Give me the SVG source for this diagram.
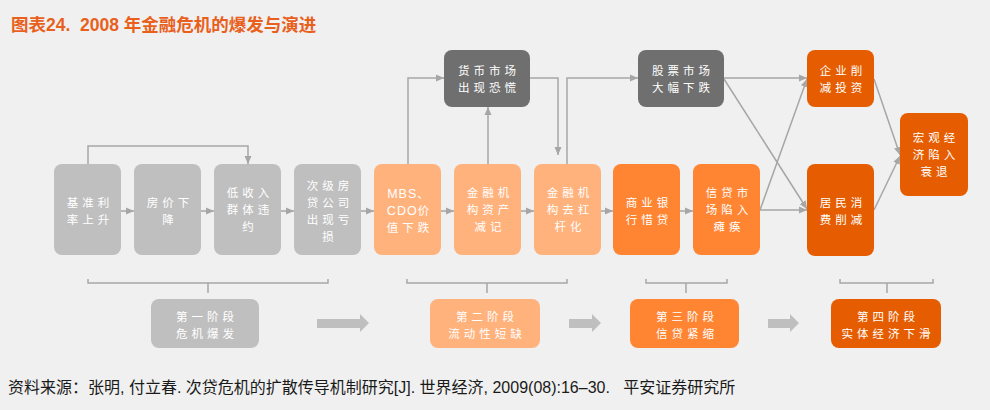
<svg xmlns="http://www.w3.org/2000/svg" width="990" height="410" viewBox="0 0 990 410">
<style>
.bg{fill:#f0f0f0}
.title{font-family:"Liberation Sans","Noto Sans CJK SC",sans-serif;font-size:17.5px;font-weight:bold;fill:#e8601c;white-space:pre}
.src{font-family:"Liberation Sans","Noto Sans CJK SC",sans-serif;font-size:16px;fill:#1a1a1a;white-space:pre}
.bt{font-family:"Noto Sans CJK SC",sans-serif;font-size:11.5px;fill:#ffffff;text-anchor:middle;letter-spacing:4px}
.mt{font-family:"Liberation Sans","Noto Sans CJK SC",sans-serif;font-size:12.5px;letter-spacing:1px}
.g{fill:#bfbfbf}
.dg{fill:#6f6f6f}
.lo{fill:#ffb27c}
.o{fill:#ff8533}
.do{fill:#e55d00}
.c{fill:none;stroke:#a6a6a6;stroke-width:1.5}
.br{fill:none;stroke:#a6a6a6;stroke-width:1.5}
.ba{fill:#bfbfbf}
</style>
<defs>
<marker id="ah" markerUnits="userSpaceOnUse" markerWidth="8" markerHeight="8" viewBox="0 0 8 8" refX="8" refY="4" orient="auto">
<path d="M0,0.5 L8,4 L0,7.5 Z" fill="#a6a6a6"/>
</marker>
</defs>
<rect class="bg" x="0" y="0" width="990" height="410"/>
<text class="title" x="11" y="31" xml:space="preserve">图表24.  2008 年金融危机的爆发与演进</text>

<g id="connectors">
<path class="c" marker-end="url(#ah)" d="M121,211 H134"/>
<path class="c" marker-end="url(#ah)" d="M201,211 H214"/>
<path class="c" marker-end="url(#ah)" d="M281,211 H294"/>
<path class="c" marker-end="url(#ah)" d="M361,211 H374"/>
<path class="c" marker-end="url(#ah)" d="M441,211 H454"/>
<path class="c" marker-end="url(#ah)" d="M521,211 H534"/>
<path class="c" marker-end="url(#ah)" d="M601,211 H613"/>
<path class="c" marker-end="url(#ah)" d="M680,211 H693"/>
<path class="c" marker-end="url(#ah)" d="M88,164 V146 H248 V164"/>
<path class="c" marker-end="url(#ah)" d="M408,164 V78 H444"/>
<path class="c" marker-end="url(#ah)" d="M488,164 V107"/>
<path class="c" marker-end="url(#ah)" d="M530,78 H558 V155"/>
<path class="c" marker-end="url(#ah)" d="M567,164 V78 H638"/>
<path class="c" marker-end="url(#ah)" d="M724,78 H807"/>
<path class="c" marker-end="url(#ah)" d="M724,79 L807,209"/>
<path class="c" marker-end="url(#ah)" d="M760,210 H807"/>
<path class="c" marker-end="url(#ah)" d="M760,210 L807,79"/>
<path class="c" marker-end="url(#ah)" d="M874,79 L900,155"/>
<path class="c" marker-end="url(#ah)" d="M874,210 L900,156"/>
</g>

<g id="n1"><rect class="g" x="54" y="164" width="67" height="91" rx="8"/><text class="bt" x="90" y="207">基准利</text><text class="bt" x="90" y="224">率上升</text></g>
<g id="n2"><rect class="g" x="134" y="164" width="67" height="91" rx="8"/><text class="bt" x="170" y="207">房价下</text><text class="bt" x="170" y="224">降</text></g>
<g id="n3"><rect class="g" x="214" y="164" width="67" height="91" rx="8"/><text class="bt" x="250" y="197">低收入</text><text class="bt" x="250" y="214">群体违</text><text class="bt" x="250" y="231">约</text></g>
<g id="n4"><rect class="g" x="294" y="164" width="67" height="91" rx="8"/><text class="bt" x="330" y="190">次级房</text><text class="bt" x="330" y="207">贷公司</text><text class="bt" x="330" y="224">出现亏</text><text class="bt" x="330" y="241">损</text></g>
<g id="n5"><rect class="lo" x="374" y="164" width="67" height="91" rx="8"/><text class="bt" x="410" y="198"><tspan class="mt">MBS</tspan>、</text><text class="bt" x="410" y="215"><tspan class="mt">CDO</tspan>价</text><text class="bt" x="410" y="232">值下跌</text></g>
<g id="n6"><rect class="lo" x="454" y="164" width="67" height="91" rx="8"/><text class="bt" x="490" y="197">金融机</text><text class="bt" x="490" y="214">构资产</text><text class="bt" x="490" y="231">减记</text></g>
<g id="n7"><rect class="lo" x="534" y="164" width="67" height="91" rx="8"/><text class="bt" x="570" y="197">金融机</text><text class="bt" x="570" y="214">构去杠</text><text class="bt" x="570" y="231">杆化</text></g>
<g id="n8"><rect class="o" x="613" y="164" width="67" height="91" rx="8"/><text class="bt" x="649" y="207">商业银</text><text class="bt" x="649" y="224">行惜贷</text></g>
<g id="n9"><rect class="o" x="693" y="164" width="67" height="91" rx="8"/><text class="bt" x="729" y="197">信贷市</text><text class="bt" x="729" y="214">场陷入</text><text class="bt" x="729" y="231">瘫痪</text></g>
<g id="money"><rect class="dg" x="444" y="50" width="86" height="57" rx="8"/><text class="bt" x="489" y="75">货币市场</text><text class="bt" x="489" y="92">出现恐慌</text></g>
<g id="stock"><rect class="dg" x="638" y="50" width="86" height="57" rx="8"/><text class="bt" x="683" y="75">股票市场</text><text class="bt" x="683" y="92">大幅下跌</text></g>
<g id="invest"><rect class="do" x="807" y="50" width="67" height="57" rx="8"/><text class="bt" x="843" y="75">企业削</text><text class="bt" x="843" y="92">减投资</text></g>
<g id="consume"><rect class="do" x="807" y="164" width="67" height="92" rx="8"/><text class="bt" x="843" y="207">居民消</text><text class="bt" x="843" y="224">费削减</text></g>
<g id="macro"><rect class="do" x="900" y="113" width="68" height="83" rx="8"/><text class="bt" x="936" y="142">宏观经</text><text class="bt" x="936" y="159">济陷入</text><text class="bt" x="936" y="176">衰退</text></g>

<g id="brackets">
<path class="br" d="M88,279 V283 H328 V279 M208,283 V293"/>
<path class="br" d="M407,279 V283 H567 V279 M487,283 V293"/>
<path class="br" d="M646,279 V283 H727 V279 M686,283 V293"/>
<path class="br" d="M840,279 V283 H933 V279 M887,283 V293"/>
</g>

<g id="stage1"><rect class="g" x="151" y="299" width="108" height="49" rx="8"/><text class="bt" x="207" y="321">第一阶段</text><text class="bt" x="207" y="338">危机爆发</text></g>
<g id="stage2"><rect class="lo" x="430" y="299" width="110" height="49" rx="8"/><text class="bt" x="487" y="321">第二阶段</text><text class="bt" x="487" y="338">流动性短缺</text></g>
<g id="stage3"><rect class="o" x="630" y="299" width="109" height="49" rx="8"/><text class="bt" x="687" y="321">第三阶段</text><text class="bt" x="687" y="338">信贷紧缩</text></g>
<g id="stage4"><rect class="do" x="831" y="299" width="110" height="49" rx="8"/><text class="bt" x="888" y="321">第四阶段</text><text class="bt" x="888" y="338">实体经济下滑</text></g>

<g id="stage-arrows">
<path class="ba" d="M317,319 H360 V314 L369,323 L360,332 V328 H317 Z"/>
<path class="ba" d="M569,319 H592 V314 L601,323 L592,332 V328 H569 Z"/>
<path class="ba" d="M768,319 H790 V314 L799,323 L790,332 V328 H768 Z"/>
</g>

<text class="src" x="8" y="393" xml:space="preserve">资料来源：张明, 付立春. 次贷危机的扩散传导机制研究[J]. 世界经济, 2009(08):16–30.   平安证券研究所</text>
</svg>
